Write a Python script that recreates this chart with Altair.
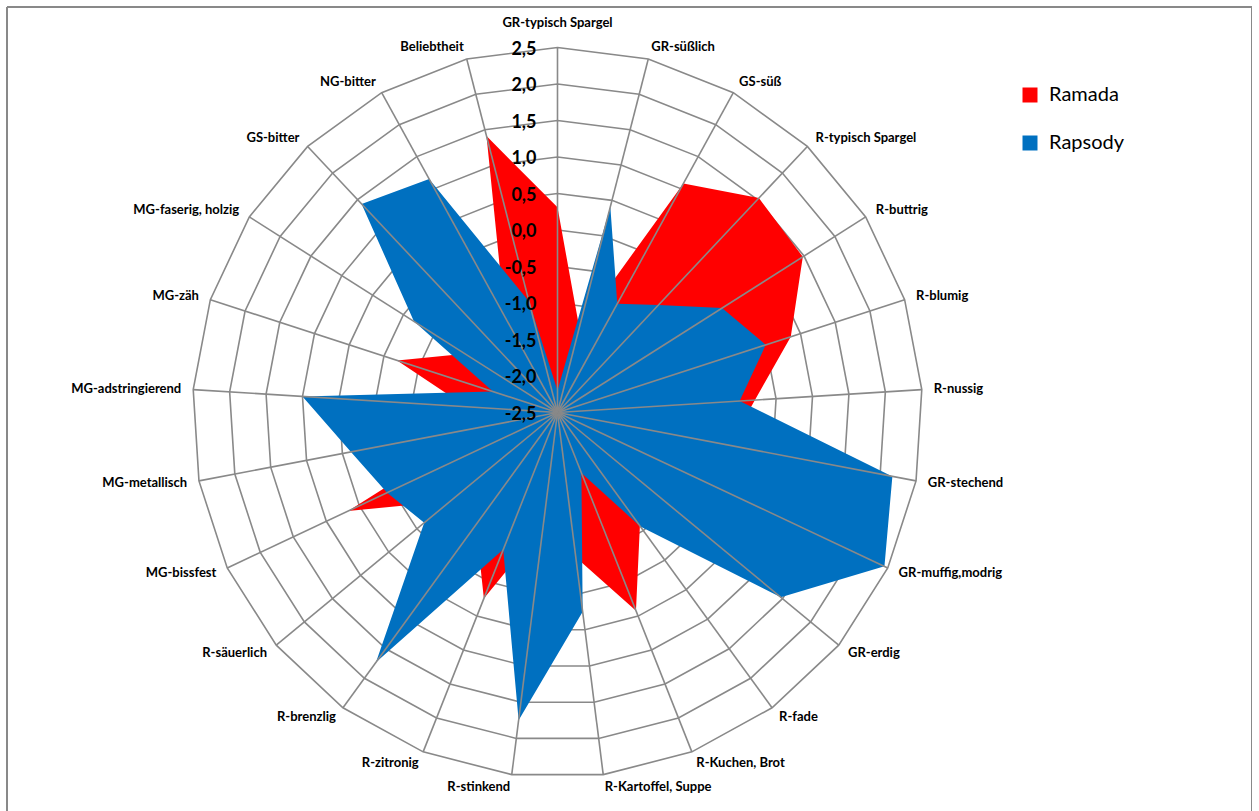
import math
import altair as alt
import pandas as pd

# Sensory attributes, clockwise from the top
categories = [
    "GR-typisch Spargel", "GR-süßlich", "GS-süß", "R-typisch Spargel", "R-buttrig",
    "R-blumig", "R-nussig", "GR-stechend", "GR-muffig,modrig", "GR-erdig",
    "R-fade", "R-Kuchen, Brot", "R-Kartoffel, Suppe", "R-stinkend", "R-zitronig",
    "R-brenzlig", "R-säuerlich", "MG-bissfest", "MG-metallisch", "MG-adstringierend",
    "MG-zäh", "MG-faserig, holzig", "GS-bitter", "NG-bitter", "Beliebtheit",
]

ramada = [0.31, -1.30, 1.08, 1.53, 1.48, 0.86, 0.21, -0.10, 0.50, 0.30,
          -0.58, 0.42, -0.50, -0.93, 0.24, -0.60, -0.60, 0.67, -1.43, -1.25,
          -0.19, -1.00, -1.00, -1.00, 1.41]

rapsody = [-2.20, 0.41, -0.80, -0.48, 0.17, 0.50, 0.00, 2.17, 2.45, 1.47,
           -0.57, -1.61, 0.25, 1.75, -0.48, 1.73, -0.13, 0.08, 0.38, 1.00,
           -1.57, -0.17, 1.42, 1.15, -0.93]

series_names = ["Ramada", "Rapsody"]
series_colors = ["#FF0000", "#0070C0"]

tick_values = [2.5, 2.0, 1.5, 1.0, 0.5, 0.0, -0.5, -1.0, -1.5, -2.0, -2.5]
tick_labels = ["2,5", "2,0", "1,5", "1,0", "0,5", "0,0", "-0,5", "-1,0", "-1,5", "-2,0", "-2,5"]

AXIS_MIN = -2.5
AXIS_MAX = 2.5
N = len(categories)

# layout of the plot area (pixels)
PLOT_W, PLOT_H = 1245, 804
CX, CY = 550.5, 405.5        # radar centre inside the plot area
RADIUS_PX = 365.0
PX_PER_UNIT = RADIUS_PX / (AXIS_MAX - AXIS_MIN)

x_domain = [-CX / PX_PER_UNIT, (PLOT_W - CX) / PX_PER_UNIT]
y_domain = [-(PLOT_H - CY) / PX_PER_UNIT, CY / PX_PER_UNIT]

GRID = "#898989"
FONT = "Lato"

rows = []
for name, vals in zip(series_names, [ramada, rapsody]):
    for i, (c, v) in enumerate(zip(categories, vals)):
        rows.append({"series": name, "idx": i, "category": c, "value": v})
values_df = pd.DataFrame(rows)

cat_df = pd.DataFrame({"idx": list(range(N)), "category": categories})
ring_df = pd.DataFrame([{"level": t, "idx": i} for t in tick_values if t > AXIS_MIN for i in range(N)])
tick_df = pd.DataFrame({"level": tick_values, "label": tick_labels})
frame_df = pd.DataFrame({"edge": ["frame"]})

theta_expr = f"datum.idx * 2 * PI / {N}"
rad_expr = f"datum.value - ({AXIS_MIN})"

xs = alt.Scale(domain=x_domain, nice=False, zero=False)
ys = alt.Scale(domain=y_domain, nice=False, zero=False)

def X(field):
    return alt.X(f"{field}:Q", scale=xs, axis=None)

def Y(field):
    return alt.Y(f"{field}:Q", scale=ys, axis=None)

color = alt.Color(
    "series:N",
    scale=alt.Scale(domain=series_names, range=series_colors),
    legend=alt.Legend(title=None, orient="none", legendX=1013, legendY=78,
                      symbolType="square", symbolSize=225, symbolStrokeWidth=0,
                      labelFontSize=20, labelFont=FONT, labelColor="#000000",
                      labelOffset=9, rowPadding=28, padding=0),
)

# outer chart frame (left, top and right edges)
frame_base = alt.Chart(frame_df).mark_rule(stroke=GRID, strokeWidth=2)
frame = alt.layer(
    frame_base.encode(x=alt.value(0), y=alt.value(0), y2=alt.value(PLOT_H + 20)),
    frame_base.encode(x=alt.value(0), x2=alt.value(PLOT_W), y=alt.value(0)),
    frame_base.encode(x=alt.value(PLOT_W), y=alt.value(0), y2=alt.value(PLOT_H + 20)),
)

# concentric grid polygons
rings = alt.Chart(ring_df).transform_calculate(
    theta=theta_expr,
    r=f"datum.level - ({AXIS_MIN})",
    x="datum.r * sin(datum.theta)",
    y="datum.r * cos(datum.theta)",
).mark_line(interpolate="linear-closed", stroke=GRID, strokeWidth=1.6).encode(
    x=X("x"), y=Y("y"), detail="level:N", order="idx:Q"
)

def series_layer(name):
    return alt.Chart(values_df).transform_filter(
        alt.datum.series == name
    ).transform_calculate(
        theta=theta_expr,
        r=rad_expr,
        x="datum.r * sin(datum.theta)",
        y="datum.r * cos(datum.theta)",
    ).mark_line(filled=True, interpolate="linear-closed", strokeWidth=0).encode(
        x=X("x"), y=Y("y"), color=color, order="idx:Q"
    )

# spokes from the centre to every category
spokes = alt.Chart(cat_df).transform_calculate(
    theta=theta_expr,
    x0="0",
    y0="0",
    x1=f"{AXIS_MAX - AXIS_MIN} * sin(datum.theta)",
    y1=f"{AXIS_MAX - AXIS_MIN} * cos(datum.theta)",
).mark_rule(stroke=GRID, strokeWidth=1.6).encode(
    x=X("x0"), y=Y("y0"), x2="x1:Q", y2="y1:Q"
)

# value axis labels along the top spoke
ticks = alt.Chart(tick_df).transform_calculate(
    x="0",
    y=f"datum.level - ({AXIS_MIN})",
).mark_text(align="right", baseline="middle", dx=-21, dy=2, font=FONT,
            fontWeight="bold", fontSize=18, color="#000000").encode(
    x=X("x"), y=Y("y"), text="label:N"
)

LABEL_R = (AXIS_MAX - AXIS_MIN) + 12 / PX_PER_UNIT

def cat_labels(filter_expr, align, dy=0):
    return alt.Chart(cat_df).transform_filter(filter_expr).transform_calculate(
        theta=theta_expr,
        x=f"{LABEL_R} * sin(datum.theta)",
        y=f"{LABEL_R} * cos(datum.theta)",
    ).mark_text(align=align, baseline="middle", dy=dy, font=FONT, fontWeight="bold",
                fontSize=13, color="#000000").encode(
        x=X("x"), y=Y("y"), text="category:N"
    )

labels_top = cat_labels("datum.idx == 0", "center", dy=-13)
labels_right = cat_labels(f"datum.idx > 0 && datum.idx <= {N // 2}", "left")
labels_left = cat_labels(f"datum.idx > {N // 2}", "right")

chart = alt.layer(
    frame,
    rings,
    series_layer("Ramada"),
    series_layer("Rapsody"),
    spokes,
    ticks,
    labels_top,
    labels_right,
    labels_left,
).properties(
    width=PLOT_W,
    height=PLOT_H,
    autosize=alt.AutoSizeParams(type="none"),
    padding={"left": 7, "top": 7, "right": 0, "bottom": 0},
    background="#FFFFFF",
).configure_view(
    strokeWidth=0
)

chart.save("out.html", embed_options={"renderer": "svg", "actions": False})
